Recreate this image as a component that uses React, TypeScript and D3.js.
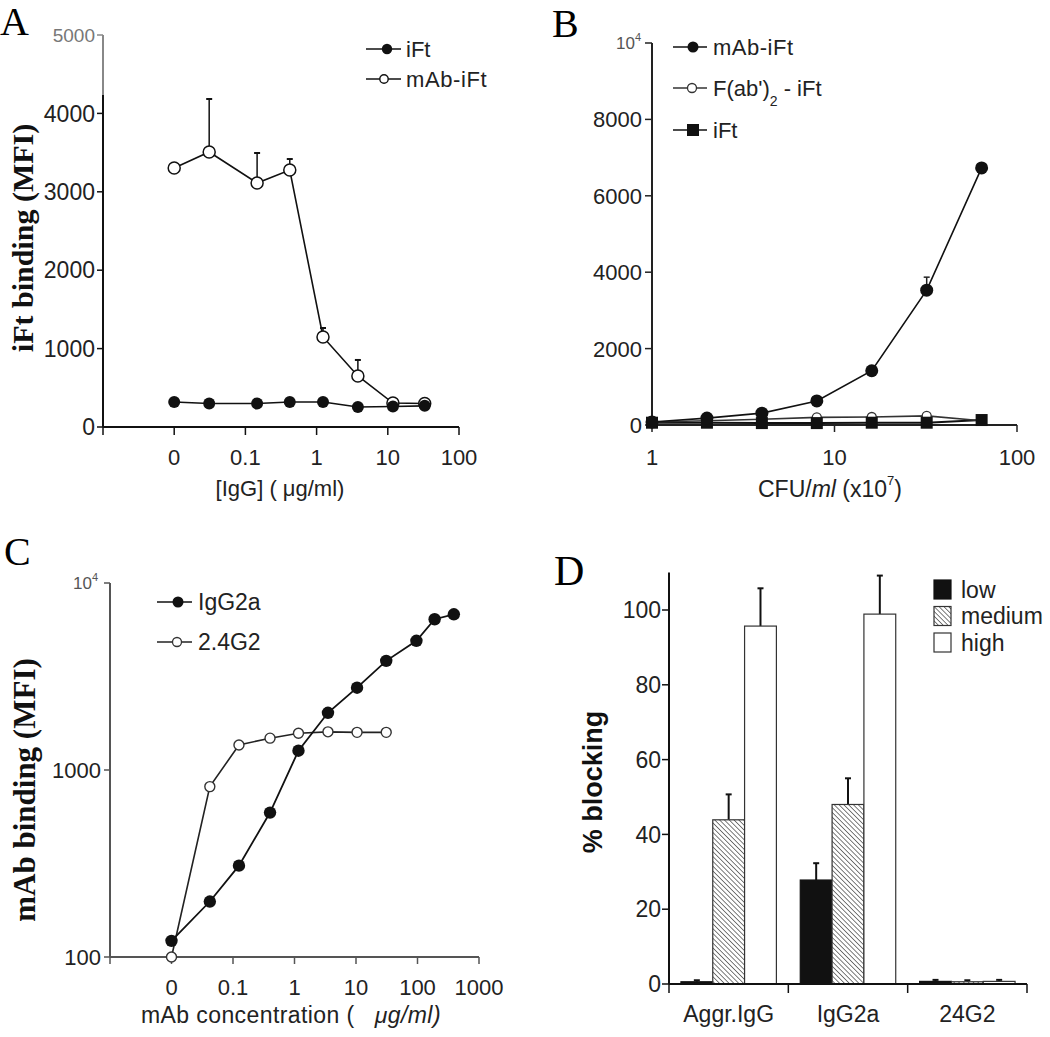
import React from "react";
import * as d3 from "d3";

// ---------- Panel A data ----------
const aConc = [0.01, 0.031, 0.146, 0.42, 1.23, 3.8, 11.8, 33]; // 0.01 plotted as "0"
const aIFt = [319, 300, 300, 319, 319, 255, 262, 270];
const aMabIFt = [3303, 3508, 3112, 3278, 1148, 651, 306, 300];
const aMabIFtErr = [0, 676, 383, 140, 115, 204, 0, 0];
const aXTicks = [0.001, 0.01, 0.1, 1, 10, 100];
const aXTickLabels = ["", "0", "0.1", "1", "10", "100"];
const aYTicks = [0, 1000, 2000, 3000, 4000, 5000];

// ---------- Panel B data ----------
const bCfu = [1, 2, 4, 8, 16, 32, 64];
const bMabIFt = [80, 180, 310, 630, 1420, 3530, 6730];
const bMabIFtErr = [0, 0, 0, 0, 0, 340, 0];
const bFabIFt = [80, 110, 150, 200, 210, 240, 110];
const bIFt = [60, 60, 50, 50, 60, 60, 130];
const bXTicks = [1, 10, 100];
const bYTicks = [0, 2000, 4000, 6000, 8000];

// ---------- Panel C data ----------
const cConc = [0.01, 0.042, 0.125, 0.4, 1.16, 3.5, 10.4, 31, 96, 190, 390]; // 0.01 plotted as "0"
const cIgG2a = [122, 198, 308, 592, 1268, 2023, 2755, 3835, 4910, 6400, 6800];
const c24G2 = [100, 815, 1361, 1480, 1572, 1600, 1590, 1590];
const cXTicks = [0.001, 0.01, 0.1, 1, 10, 100, 1000];
const cXTickLabels = ["", "0", "0.1", "1", "10", "100", "1000"];
const cYTicks = [100, 1000];

// ---------- Panel D data ----------
const dGroups = ["Aggr.IgG", "IgG2a", "24G2"];
const dLevels = ["low", "medium", "high"];
const dLow = [0.6, 27.8, 0.7];
const dLowErr = [0.4, 4.5, 0.4];
const dMedium = [43.9, 48.0, 0.6];
const dMediumErr = [6.8, 7.0, 0.4];
const dHigh = [95.7, 98.9, 0.7];
const dHighErr = [10.1, 10.3, 0.4];
const dYTicks = [0, 20, 40, 60, 80, 100];

const SANS = "'Liberation Sans', Arial, Helvetica, sans-serif";
const SERIF = "'Liberation Serif', 'Times New Roman', serif";
const TXT = "#222";

function PanelA() {
  const x = d3.scaleLog().domain([0.001, 100]).range([103, 459]);
  const y = d3.scaleLinear().domain([0, 5000]).range([427, 35]);
  const line = d3.line<number>().x((_, i) => x(aConc[i])).y((d) => y(d));
  return (
    <g>
      <text x={0} y={35} fontFamily={SERIF} fontSize={40}>A</text>
      {/* axes */}
      <line x1={103} x2={103} y1={y(5000)} y2={95} stroke="#888" strokeWidth={2} />
      <line x1={103} x2={103} y1={95} y2={y(0)} stroke="#111" strokeWidth={2} />
      <line x1={103} x2={459} y1={y(0)} y2={y(0)} stroke="#111" strokeWidth={2} />
      {aYTicks.map((t) => (
        <g key={t}>
          <line x1={97} x2={103} y1={y(t)} y2={y(t)} stroke={t === 5000 ? "#888" : "#111"} strokeWidth={1.5} />
          <text x={95} y={y(t)} dy="0.36em" textAnchor="end" fontFamily={SANS}
            fontSize={t === 5000 ? 19 : 23} fill={t === 5000 ? "#777" : TXT}>{t}</text>
        </g>
      ))}
      {aXTicks.map((t, i) => (
        <g key={t}>
          <line x1={x(t)} x2={x(t)} y1={y(0)} y2={y(0) + 8} stroke="#111" strokeWidth={1.5} />
          <text x={x(t)} y={465} textAnchor="middle" fontFamily={SANS} fontSize={22} fill={TXT}>{aXTickLabels[i]}</text>
        </g>
      ))}
      <text x={280} y={496} textAnchor="middle" fontFamily={SANS} fontSize={22} fill={TXT}>[IgG] ( μg/ml)</text>
      <text transform="translate(33,238) rotate(-90)" textAnchor="middle" fontFamily={SERIF} fontWeight="bold" fontSize={30} fill="#111">iFt binding (MFI)</text>
      {/* error bars */}
      {aMabIFt.map((v, i) => aMabIFtErr[i] > 0 ? (
        <g key={i}>
          <line x1={x(aConc[i])} x2={x(aConc[i])} y1={y(v)} y2={y(v + aMabIFtErr[i])} stroke="#111" strokeWidth={1.5} />
          <line x1={x(aConc[i]) - 3} x2={x(aConc[i]) + 3} y1={y(v + aMabIFtErr[i])} y2={y(v + aMabIFtErr[i])} stroke="#111" strokeWidth={2} />
        </g>
      ) : null)}
      <path d={line(aMabIFt) || ""} fill="none" stroke="#111" strokeWidth={1.6} />
      <path d={line(aIFt) || ""} fill="none" stroke="#111" strokeWidth={1.6} />
      {aMabIFt.map((v, i) => (
        <circle key={"o" + i} cx={x(aConc[i])} cy={y(v)} r={6} fill="#fff" stroke="#111" strokeWidth={1.5} />
      ))}
      {aIFt.map((v, i) => (
        <circle key={"f" + i} cx={x(aConc[i])} cy={y(v)} r={6} fill="#111" />
      ))}
      {/* legend */}
      <line x1={366} x2={401} y1={49} y2={49} stroke="#111" strokeWidth={1.6} />
      <circle cx={387} cy={49} r={5.2} fill="#111" />
      <text x={406} y={49} dy="0.36em" fontFamily={SANS} fontSize={22} fill={TXT}>iFt</text>
      <line x1={366} x2={401} y1={79} y2={79} stroke="#111" strokeWidth={1.6} />
      <circle cx={384} cy={79} r={4.2} fill="#fff" stroke="#111" strokeWidth={1.4} />
      <text x={406} y={79} dy="0.36em" fontFamily={SANS} fontSize={22} fill={TXT} letterSpacing={0.6}>mAb-iFt</text>
    </g>
  );
}

function PanelB() {
  const x = d3.scaleLog().domain([1, 100]).range([652, 1017]);
  const y = d3.scaleLinear().domain([0, 10000]).range([425, 43]);
  const line = d3.line<number>().x((_, i) => x(bCfu[i])).y((d) => y(d));
  return (
    <g>
      <text x={552} y={37} fontFamily={SERIF} fontSize={40}>B</text>
      <line x1={652} x2={652} y1={y(10000)} y2={y(0)} stroke="#222" strokeWidth={2} />
      <line x1={652} x2={1017} y1={y(0)} y2={y(0)} stroke="#222" strokeWidth={2} />
      {bYTicks.map((t) => (
        <g key={t}>
          <line x1={645} x2={652} y1={y(t)} y2={y(t)} stroke="#222" strokeWidth={1.5} />
          <text x={642} y={y(t)} dy="0.36em" textAnchor="end" fontFamily={SANS} fontSize={22} fill={TXT}>{t}</text>
        </g>
      ))}
      <line x1={645} x2={652} y1={y(10000)} y2={y(10000)} stroke="#222" strokeWidth={1.5} />
      <text x={635} y={y(10000) + 6} textAnchor="end" fontFamily={SANS} fontSize={17} fill="#555">10</text>
      <text x={635} y={y(10000) - 2} fontFamily={SANS} fontSize={11} fill="#555">4</text>
      {bXTicks.map((t) => (
        <g key={t}>
          <line x1={x(t)} x2={x(t)} y1={y(0)} y2={y(0) + 7} stroke="#222" strokeWidth={1.5} />
          <text x={x(t)} y={465} textAnchor="middle" fontFamily={SANS} fontSize={22} fill={TXT}>{t}</text>
        </g>
      ))}
      <text x={758} y={497} fontFamily={SANS} fontSize={23} fill={TXT}>
        CFU/<tspan fontStyle="italic">ml</tspan> (x10<tspan fontSize={13} dy={-12}>7</tspan><tspan dy={12}>)</tspan>
      </text>
      {/* error bar */}
      {bMabIFt.map((v, i) => bMabIFtErr[i] > 0 ? (
        <g key={i}>
          <line x1={x(bCfu[i])} x2={x(bCfu[i])} y1={y(v)} y2={y(v + bMabIFtErr[i])} stroke="#222" strokeWidth={1.5} />
          <line x1={x(bCfu[i]) - 3} x2={x(bCfu[i]) + 3} y1={y(v + bMabIFtErr[i])} y2={y(v + bMabIFtErr[i])} stroke="#222" strokeWidth={1.5} />
        </g>
      ) : null)}
      <path d={line(bIFt) || ""} fill="none" stroke="#111" strokeWidth={2} />
      <path d={line(bFabIFt) || ""} fill="none" stroke="#333" strokeWidth={1.6} />
      <path d={line(bMabIFt) || ""} fill="none" stroke="#111" strokeWidth={1.6} />
      {bFabIFt.map((v, i) => (
        <circle key={"o" + i} cx={x(bCfu[i])} cy={y(v)} r={4.5} fill="#fff" stroke="#333" strokeWidth={1.3} />
      ))}
      {bIFt.map((v, i) => (
        <rect key={"s" + i} x={x(bCfu[i]) - 6} y={y(v) - 6} width={12} height={12} fill="#111" />
      ))}
      {bMabIFt.map((v, i) => (
        <circle key={"f" + i} cx={x(bCfu[i])} cy={y(v)} r={6.5} fill="#111" />
      ))}
      {/* legend */}
      <line x1={673} x2={707} y1={47} y2={47} stroke="#111" strokeWidth={1.6} />
      <circle cx={693} cy={47} r={5.5} fill="#111" />
      <text x={713} y={47} dy="0.36em" fontFamily={SANS} fontSize={22} fill={TXT} letterSpacing={0.5}>mAb-iFt</text>
      <line x1={673} x2={707} y1={88} y2={88} stroke="#333" strokeWidth={1.6} />
      <circle cx={692} cy={88} r={4.5} fill="#fff" stroke="#333" strokeWidth={1.3} />
      <text x={713} y={88} dy="0.36em" fontFamily={SANS} fontSize={22} fill={TXT}>
        F(ab')<tspan fontSize={14} dy={10}>2</tspan><tspan dy={-10}> - iFt</tspan>
      </text>
      <line x1={673} x2={707} y1={130} y2={130} stroke="#111" strokeWidth={1.6} />
      <rect x={687} y={124} width={12} height={12} fill="#111" />
      <text x={713} y={130} dy="0.36em" fontFamily={SANS} fontSize={22} fill={TXT}>iFt</text>
    </g>
  );
}

function PanelC() {
  const x = d3.scaleLog().domain([0.001, 1000]).range([110, 479]);
  const y = d3.scaleLog().domain([100, 10000]).range([957, 583]);
  const lineI = d3.line<number>().x((_, i) => x(cConc[i])).y((d) => y(d));
  const AX = "#555";
  return (
    <g>
      <text x={4} y={565} fontFamily={SERIF} fontSize={40}>C</text>
      <line x1={110} x2={110} y1={y(10000)} y2={y(100)} stroke={AX} strokeWidth={2} />
      <line x1={110} x2={479} y1={y(100)} y2={y(100)} stroke={AX} strokeWidth={2} />
      {cYTicks.map((t) => (
        <g key={t}>
          <line x1={104} x2={110} y1={y(t)} y2={y(t)} stroke={AX} strokeWidth={1.5} />
          <text x={101} y={y(t)} dy="0.36em" textAnchor="end" fontFamily={SANS} fontSize={22} fill={TXT}>{t}</text>
        </g>
      ))}
      <line x1={104} x2={110} y1={y(10000)} y2={y(10000)} stroke={AX} strokeWidth={1.5} />
      <text x={92} y={y(10000) + 6} textAnchor="end" fontFamily={SANS} fontSize={17} fill="#555">10</text>
      <text x={92} y={y(10000) - 2} fontFamily={SANS} fontSize={11} fill="#555">4</text>
      {cXTicks.map((t, i) => (
        <g key={t}>
          <line x1={x(t)} x2={x(t)} y1={y(100)} y2={y(100) + 7} stroke={AX} strokeWidth={1.5} />
          <text x={x(t)} y={995} textAnchor="middle" fontFamily={SANS} fontSize={22} fill={TXT}>{cXTickLabels[i]}</text>
        </g>
      ))}
      <text x={291} y={1023} textAnchor="middle" fontFamily={SANS} fontSize={23} fill={TXT} letterSpacing={0.4}
        style={{ whiteSpace: "pre" }}>
        {"mAb concentration (   "}<tspan fontStyle="italic">μg/ml)</tspan>
      </text>
      <text transform="translate(35,790) rotate(-90)" textAnchor="middle" fontFamily={SERIF} fontWeight="bold" fontSize={31} fill="#111">mAb binding (MFI)</text>
      <path d={lineI(c24G2) || ""} fill="none" stroke="#222" strokeWidth={1.6} />
      <path d={lineI(cIgG2a) || ""} fill="none" stroke="#111" strokeWidth={1.8} />
      {c24G2.map((v, i) => (
        <circle key={"o" + i} cx={x(cConc[i])} cy={y(v)} r={5} fill="#fff" stroke="#333" strokeWidth={1.4} />
      ))}
      {cIgG2a.map((v, i) => (
        <circle key={"f" + i} cx={x(cConc[i])} cy={y(v)} r={6.2} fill="#111" />
      ))}
      {/* legend */}
      <line x1={157} x2={192} y1={602} y2={602} stroke="#111" strokeWidth={1.6} />
      <circle cx={178} cy={602} r={5.5} fill="#111" />
      <text x={198} y={602} dy="0.36em" fontFamily={SANS} fontSize={23} fill={TXT}>IgG2a</text>
      <line x1={157} x2={192} y1={642} y2={642} stroke="#222" strokeWidth={1.6} />
      <circle cx={177} cy={642} r={4.5} fill="#fff" stroke="#333" strokeWidth={1.3} />
      <text x={198} y={642} dy="0.36em" fontFamily={SANS} fontSize={23} fill={TXT}>2.4G2</text>
    </g>
  );
}

function PanelD() {
  const y = d3.scaleLinear().domain([0, 110]).range([984, 572.6]);
  const xg = d3.scaleBand<string>().domain(dGroups).range([669, 1027]).padding(0);
  const xl = d3.scaleBand<string>().domain(dLevels).range([0, xg.bandwidth()]).paddingInner(0).paddingOuter(0.375);
  const series = [
    { key: "low", vals: dLow, err: dLowErr, fill: "#111", stroke: "#111" },
    { key: "medium", vals: dMedium, err: dMediumErr, fill: "url(#hatch)", stroke: "#333" },
    { key: "high", vals: dHigh, err: dHighErr, fill: "#fff", stroke: "#333" },
  ];
  return (
    <g>
      <defs>
        <pattern id="hatch" patternUnits="userSpaceOnUse" width={3.4} height={3.4} patternTransform="rotate(-45)">
          <rect width={3.4} height={3.4} fill="#fff" />
          <line x1={0} y1={0} x2={0} y2={3.4} stroke="#444" strokeWidth={1.4} />
        </pattern>
      </defs>
      <text x={554} y={585} fontFamily={SERIF} fontSize={42}>D</text>
      {/* bars */}
      {series.map((s) => dGroups.map((g, gi) => {
        const bx = (xg(g) || 0) + (xl(s.key) || 0);
        const bw = xl.bandwidth();
        const v = s.vals[gi];
        const top = y(v + s.err[gi]);
        const cx = bx + bw / 2;
        return (
          <g key={s.key + g}>
            <line x1={cx} x2={cx} y1={y(v)} y2={top} stroke="#111" strokeWidth={2} />
            <line x1={cx - 3} x2={cx + 3} y1={top} y2={top} stroke="#111" strokeWidth={2} />
            <rect x={bx} y={y(v)} width={bw} height={y(0) - y(v)} fill={s.fill} stroke={s.stroke} strokeWidth={1.2} />
          </g>
        );
      }))}
      {/* axes */}
      <line x1={669} x2={669} y1={y(110)} y2={y(0)} stroke="#111" strokeWidth={2} />
      <line x1={669} x2={1027} y1={y(0)} y2={y(0)} stroke="#111" strokeWidth={2} />
      {dYTicks.map((t) => (
        <g key={t}>
          <line x1={662} x2={669} y1={y(t)} y2={y(t)} stroke="#111" strokeWidth={1.5} />
          <text x={661} y={y(t)} dy="0.36em" textAnchor="end" fontFamily={SANS} fontSize={23} fill={TXT}>{t}</text>
        </g>
      ))}
      {[...dGroups.map((g) => xg(g) || 0), 1027].map((t, i) => (
        <line key={i} x1={t} x2={t} y1={y(0)} y2={y(0) + 9} stroke="#111" strokeWidth={1.5} />
      ))}
      {dGroups.map((g) => (
        <text key={g} x={(xg(g) || 0) + xg.bandwidth() / 2} y={1022} textAnchor="middle" fontFamily={SANS} fontSize={23} fill={TXT}>{g}</text>
      ))}
      <text transform="translate(602,782) rotate(-90)" textAnchor="middle" fontFamily={SANS} fontWeight="bold" fontSize={27} fill="#111">% blocking</text>
      {/* legend */}
      {series.map((s, i) => (
        <g key={s.key}>
          <rect x={934} y={580 + i * 26.5} width={17} height={19} fill={s.fill} stroke={s.stroke} strokeWidth={1.2} />
          <text x={961} y={580 + i * 26.5 + 9.5} dy="0.36em" fontFamily={SANS} fontSize={23} fill={TXT}>{s.key}</text>
        </g>
      ))}
    </g>
  );
}

export default function App() {
  return (
    <svg width={1050} height={1037} viewBox="0 0 1050 1037"
      style={{ position: "absolute", left: 0, top: 0, background: "#fff" }}>
      <rect width={1050} height={1037} fill="#fff" />
      <PanelA />
      <PanelB />
      <PanelC />
      <PanelD />
    </svg>
  );
}
